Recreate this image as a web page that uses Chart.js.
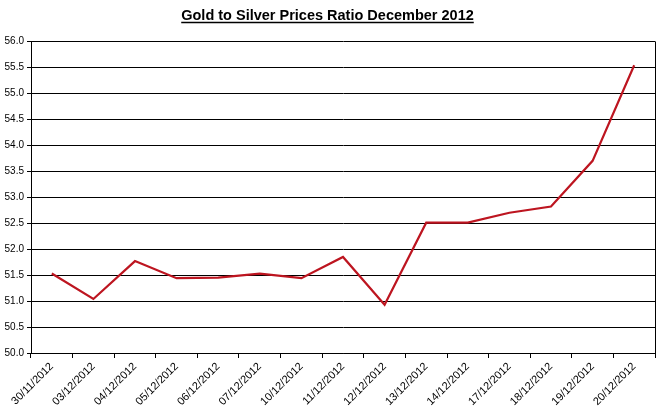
<!DOCTYPE html>
<html>
<head>
<meta charset="utf-8">
<script src="https://cdn.jsdelivr.net/npm/chart.js@4"></script>
<style>
  html, body { margin: 0; padding: 0; background: #fff; }
  #wrap { width: 658px; height: 413px; }
</style>
</head>
<body>
<div id="wrap"><canvas id="ratioChart" width="658" height="413"></canvas></div>
<script>
const dates = ['30/11/2012', '03/12/2012', '04/12/2012', '05/12/2012', '06/12/2012',
  '07/12/2012', '10/12/2012', '11/12/2012', '12/12/2012', '13/12/2012',
  '14/12/2012', '17/12/2012', '18/12/2012', '19/12/2012', '20/12/2012'];
const ratio = [51.53, 51.04, 51.77, 51.44, 51.45, 51.53, 51.44, 51.85, 50.93, 52.51,
  52.51, 52.70, 52.82, 53.70, 55.54];
const yMin = 50, yMax = 56, yStep = 0.5;

const font = "Arial, 'Liberation Sans', sans-serif";
const titleSize = 14.5;

// Excel-ish frame on the right side + underline under title
const frame = {
  id: 'frame',
  afterDraw(chart) {
    const c = chart.ctx, a = chart.chartArea;
    c.save();
    c.strokeStyle = '#000';
    c.lineWidth = 1;
    c.beginPath();
    c.moveTo(Math.round(a.right) + 0.5, a.top);
    c.lineTo(Math.round(a.right) + 0.5, a.bottom);
    c.stroke();
    const t = chart.titleBlock;
    if (t) {
      c.font = 'bold ' + titleSize + 'px ' + font;
      const w = c.measureText(t.options.text).width;
      const cx = (t.left + t.right) / 2;
      const y = t.top + t.options.padding.top + 15.5;
      c.lineWidth = 1.3;
      c.beginPath();
      c.moveTo(cx - w / 2, y);
      c.lineTo(cx + w / 2, y);
      c.stroke();
    }
    c.restore();
  }
};

new Chart(document.getElementById('ratioChart'), {
  type: 'line',
  data: {
    labels: dates,
    datasets: [{
      label: 'Ratio',
      data: ratio,
      borderColor: '#bd1520',
      borderWidth: 2.2,
      pointRadius: 0,
      tension: 0,
      fill: false
    }]
  },
  options: {
    responsive: false,
    animation: false,
    devicePixelRatio: 1,
    layout: { padding: { left: 0, right: 3, top: 0, bottom: 0 } },
    plugins: {
      legend: { display: false },
      tooltip: { enabled: false },
      title: {
        display: true,
        text: 'Gold to Silver Prices Ratio December 2012',
        color: '#000',
        font: { family: font, size: titleSize, weight: 'bold' },
        padding: { top: 7, bottom: 17 }
      }
    },
    scales: {
      x: {
        offset: true,
        grid: {
          offset: true,
          drawOnChartArea: false,
          color: '#000',
          tickLength: 5
        },
        border: { color: '#000', width: 1 },
        ticks: {
          color: '#000',
          font: { family: font, size: 11 },
          maxRotation: 45,
          minRotation: 45,
          autoSkip: false,
          padding: 2
        },
        afterFit(scale) { scale.height = 60; }
      },
      y: {
        min: yMin,
        max: yMax,
        grid: { color: '#000', tickLength: 4 },
        border: { color: '#000', width: 1 },
        ticks: {
          stepSize: yStep,
          color: '#000',
          font: { family: font, size: 10 },
          padding: 3,
          callback: v => v.toFixed(1)
        },
        afterFit(scale) { scale.width = 31; }
      }
    }
  },
  plugins: [frame]
});
</script>
</body>
</html>
